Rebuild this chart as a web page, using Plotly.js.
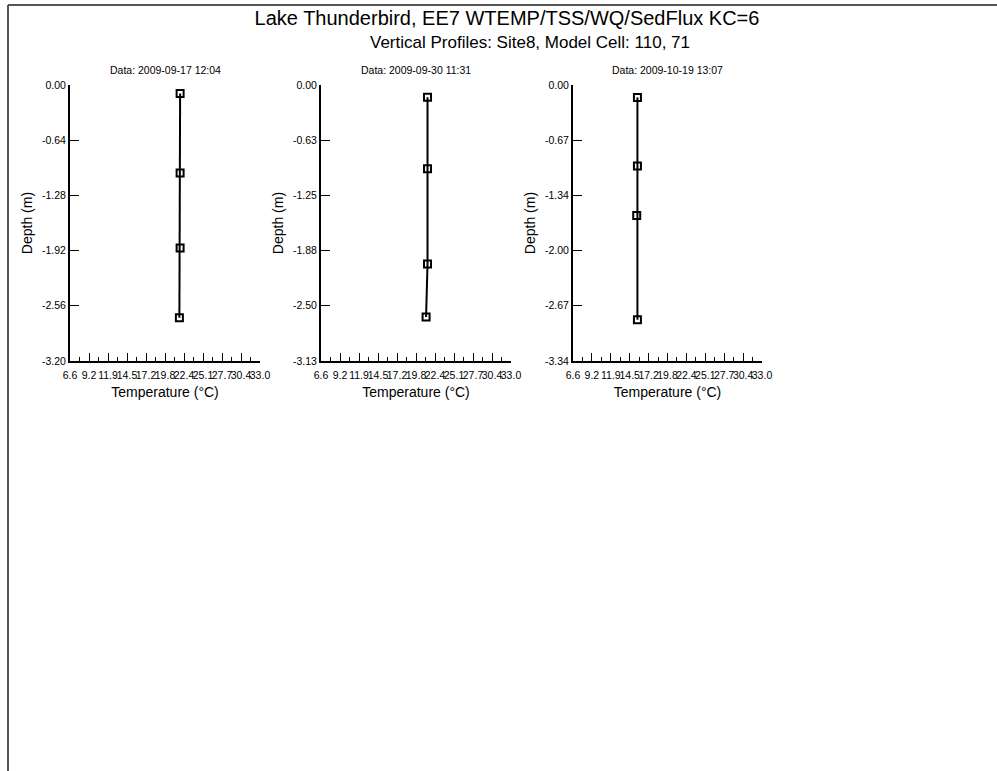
<!DOCTYPE html>
<html>
<head>
<meta charset="utf-8">
<script src="https://cdn.plot.ly/plotly-3.0.1.min.js"></script>
<style>html,body{margin:0;padding:0;background:#fff;}#chart{width:997px;height:771px;}</style>
</head>
<body>
<div id="chart"></div>
<script>
// ---- data ----
const panelTitles = ["Data: 2009-09-17 12:04", "Data: 2009-09-30 11:31", "Data: 2009-10-19 13:07"];
const temp1 = [21.9, 21.9, 21.9, 21.8];
const depth1 = [-0.10, -1.02, -1.89, -2.70];
const temp2 = [21.4, 21.4, 21.4, 21.2];
const depth2 = [-0.14, -0.95, -2.03, -2.63];
const temp3 = [15.6, 15.6, 15.5, 15.6];
const depth3 = [-0.15, -0.98, -1.58, -2.84];
const xTickVals = [6.6, 9.24, 11.88, 14.52, 17.16, 19.8, 22.44, 25.08, 27.72, 30.36, 33.0];
const xTickText = ["6.6", "9.2", "11.9", "14.5", "17.2", "19.8", "22.4", "25.1", "27.7", "30.4", "33.0"];
const yTickText1 = ["0.00", "-0.64", "-1.28", "-1.92", "-2.56", "-3.20"];
const yTickText2 = ["0.00", "-0.63", "-1.25", "-1.88", "-2.50", "-3.13"];
const yTickText3 = ["0.00", "-0.67", "-1.34", "-2.00", "-2.67", "-3.34"];
const yMins = [-3.20, -3.13, -3.34];

const W = 997, H = 771;
const font = "Liberation Sans, Arial, sans-serif";
const temps = [temp1, temp2, temp3];
const depths = [depth1, depth2, depth3];
const yTexts = [yTickText1, yTickText2, yTickText3];
const xDomains = [[70, 260], [321, 511], [573, 762]];
const yDom = [(H - 361) / H, (H - 85) / H];

const traces = [];
const layout = {
  width: W, height: H,
  margin: {l: 0, r: 0, t: 0, b: 0},
  paper_bgcolor: "#fff", plot_bgcolor: "#fff",
  showlegend: false,
  font: {family: font, color: "#000"},
  title: {text: "Lake Thunderbird, EE7 WTEMP/TSS/WQ/SedFlux KC=6", x: 507 / W, xanchor: "center",
          y: 1 - 18 / H, yanchor: "middle", font: {size: 20, family: font, color: "#000"}},
  annotations: [
    {text: "Vertical Profiles: Site8, Model Cell: 110, 71", xref: "paper", yref: "paper",
     x: 530 / W, y: 1 - 42 / H, xanchor: "center", yanchor: "middle", showarrow: false,
     font: {size: 17, family: font, color: "#000"}}
  ],
  shapes: [
    {type: "line", xref: "paper", yref: "paper", x0: 8 / W, x1: 1, y0: 1 - 5 / H, y1: 1 - 5 / H,
     line: {color: "#555", width: 2}},
    {type: "line", xref: "paper", yref: "paper", x0: 8 / W, x1: 8 / W, y0: 0, y1: 1 - 5 / H,
     line: {color: "#555", width: 2}}
  ]
};

for (let i = 0; i < 3; i++) {
  const s = i === 0 ? "" : String(i + 1);
  traces.push({
    x: temps[i], y: depths[i], xaxis: "x" + s, yaxis: "y" + s,
    type: "scatter", mode: "lines+markers",
    line: {color: "#000", width: 2},
    marker: {symbol: "square-open", size: 7, color: "#000", line: {color: "#000", width: 2}}
  });
  const yvals = [];
  for (let k = 0; k <= 5; k++) yvals.push(yMins[i] * k / 5);
  const minorVals = [];
  for (let k = 0; k < xTickVals.length - 1; k++) minorVals.push((xTickVals[k] + xTickVals[k + 1]) / 2);
  layout["xaxis" + s] = {
    domain: [xDomains[i][0] / W, xDomains[i][1] / W], anchor: "y" + s,
    range: [6.6, 33.0], showgrid: false, zeroline: false,
    showline: true, linecolor: "#000", linewidth: 2,
    tickmode: "array", tickvals: xTickVals, ticktext: xTickText, tickangle: 0,
    ticks: "inside", ticklen: 8, tickwidth: 1, tickcolor: "#000", ticklabelstandoff: 3,
    minor: {tickmode: "array", tickvals: minorVals, ticks: "inside", ticklen: 4, tickwidth: 1, tickcolor: "#000", showgrid: false},
    tickfont: {size: 10.5, family: font, color: "#000"},
    title: {text: "Temperature (°C)", font: {size: 14, family: font, color: "#000"}, standoff: 8}
  };
  layout["yaxis" + s] = {
    domain: yDom, anchor: "x" + s,
    range: [yMins[i], 0], showgrid: false, zeroline: false,
    showline: true, linecolor: "#000", linewidth: 2,
    tickmode: "array", tickvals: yvals, ticktext: yTexts[i],
    ticks: "inside", ticklen: 9, tickwidth: 1, tickcolor: "#000",
    tickfont: {size: 10.5, family: font, color: "#000"},
    title: {text: "Depth (m)", font: {size: 14, family: font, color: "#000"}, standoff: 6}
  };
  layout.annotations.push({
    text: panelTitles[i], xref: "paper", yref: "paper",
    x: (xDomains[i][0] + xDomains[i][1]) / 2 / W, y: 1 - 70 / H,
    xanchor: "center", yanchor: "middle", showarrow: false,
    font: {size: 10.5, family: font, color: "#000"}
  });
}

Plotly.newPlot("chart", traces, layout, {staticPlot: true, displayModeBar: false});
</script>
</body>
</html>
